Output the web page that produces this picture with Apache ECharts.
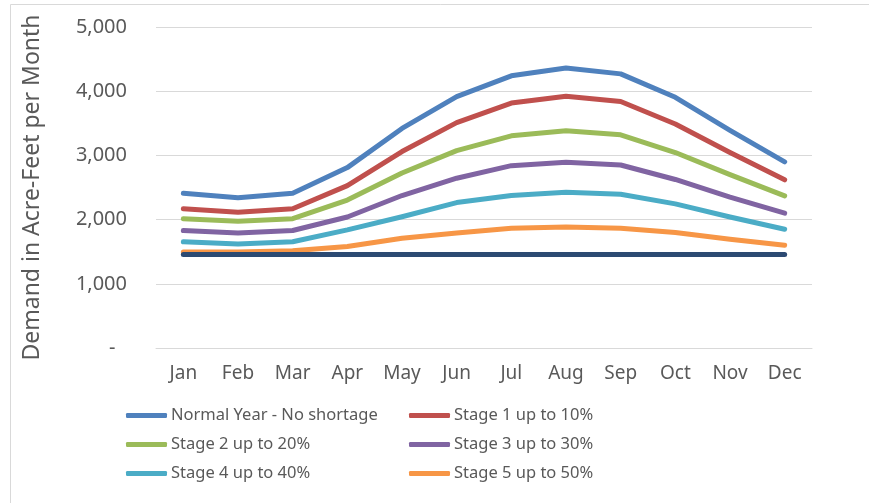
<!DOCTYPE html>
<html><head><meta charset="utf-8">
<script src="https://cdn.jsdelivr.net/npm/echarts@6/dist/echarts.min.js"></script>
<style>html,body{margin:0;padding:0;background:#fff}#c{width:869px;height:503px}</style>
</head><body><div id="c"></div>
<script>
const months = ['Jan','Feb','Mar','Apr','May','Jun','Jul','Aug','Sep','Oct','Nov','Dec'];
const normalYear = [2410,2340,2410,2810,3420,3915,4240,4360,4270,3905,3390,2900];
const stage1 = [2170,2115,2170,2530,3060,3510,3815,3920,3840,3490,3045,2620];
const stage2 = [2015,1975,2015,2305,2725,3075,3305,3385,3320,3045,2700,2370];
const stage3 = [1830,1790,1830,2040,2375,2645,2840,2895,2850,2625,2350,2100];
const stage4 = [1655,1620,1655,1840,2045,2265,2375,2425,2395,2245,2040,1850];
const stage5 = [1495,1495,1515,1580,1710,1790,1865,1885,1865,1800,1695,1600];
const baseline = [1455,1455,1455,1455,1455,1455,1455,1455,1455,1455,1455,1455];
const seriesNames = ['Normal Year - No shortage','Stage 1 up to 10%','Stage 2 up to 20%','Stage 3 up to 30%','Stage 4 up to 40%','Stage 5 up to 50%'];
const colors = ['#4F81BD','#C0504D','#9BBB59','#8064A2','#4BACC6','#F79646'];
const baselineColor = '#2C4A72';
const yTicks = [0,1000,2000,3000,4000,5000];

const FONT = 'Noto Sans';
const TXT = '#595959';
const chart = echarts.init(document.getElementById('c'), null, {renderer:'canvas'});
const data = [normalYear, stage1, stage2, stage3, stage4, stage5];
const series = data.map((d,i)=>({
  name: seriesNames[i], type:'line', data:d, showSymbol:false, symbol:'none',
  lineStyle:{width:5, color:colors[i], cap:'round', join:'round'}, itemStyle:{color:colors[i]},
  z: 2+i, animation:false
}));
series.push({name:'Baseline', type:'line', data:baseline, showSymbol:false, symbol:'none',
  lineStyle:{width:5, color:baselineColor, cap:'round', join:'round'}, itemStyle:{color:baselineColor}, z:10, animation:false});

const legendCommon = {orient:'vertical', itemWidth:41, itemHeight:5, itemGap:12, icon:'roundRect',
  textStyle:{fontFamily:FONT, fontSize:16.5, color:TXT, padding:[0,0,0,-1]}};
chart.setOption({
  animation:false,
  graphic:[{type:'rect', shape:{x:10.5,y:4.5,width:900,height:600}, style:{fill:'none', stroke:'#D9D9D9', lineWidth:1}, silent:true}],
  grid:{left:156, right:57, top:27, bottom:155, containLabel:false},
  xAxis:{type:'category', data:months, boundaryGap:true,
    axisLine:{show:true, lineStyle:{color:'#D9D9D9', width:1}}, axisTick:{show:false},
    axisLabel:{fontFamily:FONT, fontSize:19, color:TXT, margin:16, interval:0}},
  yAxis:{type:'value', min:0, max:5000, interval:1000,
    name:'Demand in Acre-Feet per Month', nameLocation:'middle', nameGap:112, nameRotate:90,
    nameTextStyle:{fontFamily:FONT, fontSize:23, color:TXT},
    axisLine:{show:false}, axisTick:{show:false},
    splitLine:{lineStyle:{color:'#D9D9D9', width:1}},
    axisLabel:{fontFamily:FONT, fontSize:20, color:TXT, margin:29,
      formatter:v=> v===0 ? '-\u2007' : v.toLocaleString('en-US')}},
  legend:[
    Object.assign({left:121, top:402, data:[seriesNames[0],seriesNames[2],seriesNames[4]]}, legendCommon),
    Object.assign({left:404, top:402, data:[seriesNames[1],seriesNames[3],seriesNames[5]]}, legendCommon)
  ],
  series
});
</script></body></html>
